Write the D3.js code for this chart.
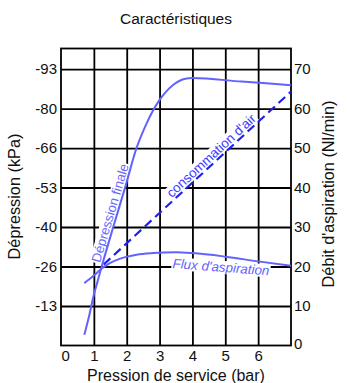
<!DOCTYPE html>
<html>
<head>
<meta charset="utf-8">
<script src="https://cdn.jsdelivr.net/npm/d3@7"></script>
<style>
  html, body { margin: 0; padding: 0; background: #fff; }
  svg { display: block; font-family: "Liberation Sans", Arial, sans-serif; }
</style>
</head>
<body>
<svg id="chart" width="350" height="383"></svg>
<script>
// ---- data ----
const xTickValues = [0, 1, 2, 3, 4, 5, 6];
const xGridValues = [1, 2, 3, 4, 5, 6];
const leftTickValues = [-13.33, -26.67, -40, -53.33, -66.67, -80, -93.33];
const leftTickLabels = ["-13", "-26", "-40", "-53", "-66", "-80", "-93"];
const rightTickValues = [0, 10, 20, 30, 40, 50, 60, 70];

// Dépression finale (bar, kPa)
const depressionFinale = [
  [0.71, -3.6], [0.85, -9.7], [1.0, -17.1], [1.12, -21.9], [1.24, -26.7],
  [1.59, -40.0], [1.95, -53.3], [2.3, -66.7], [2.61, -75.1], [3.0, -82.9],
  [3.2, -85.7], [3.42, -88.0], [3.75, -90.0], [4.0, -90.3], [5.5, -89.1], [7.0, -87.9]
];
// Flux d'aspiration (bar, Nl/min)
const fluxAspiration = [
  [0.71, 15.8], [1.0, 17.7], [1.24, 19.5], [1.5, 20.9], [1.8, 22.0], [2.3, 23.0],
  [2.8, 23.4], [3.5, 23.6], [4.0, 23.4], [5.0, 22.5], [6.0, 21.3], [7.0, 20.2]
];
// Consommation d'air (bar, Nl/min)
const consommationAir = [[1.3, 20.5], [7.0, 64.3]];

// ---- layout ----
const L = 61, R = 291, T = 48.5, B = 345.5;
const svg = d3.select("#chart");
const x = d3.scaleLinear().domain([0, 7]).range([L, R]);
const yR = d3.scaleLinear().domain([0, 75.2]).range([B, T]);
const yL = d3.scaleLinear().domain([0, -75.2 * 4 / 3]).range([B, T]);

const gridColor = "#000";
const gridW = 1.8;
const lightBlue = "#6262ff";
const darkBlue = "#1f1fee";

// grid
const gx = svg.append("g").attr("transform", `translate(0,${B})`)
  .call(d3.axisBottom(x).tickValues(xGridValues).tickSize(-(B - T)).tickFormat(""));
gx.select(".domain").remove();
gx.selectAll("line").attr("stroke", gridColor).attr("stroke-width", gridW);

const gy = svg.append("g").attr("transform", `translate(${L},0)`)
  .call(d3.axisLeft(yR).tickValues(rightTickValues.slice(1)).tickSize(-(R - L)).tickFormat(""));
gy.select(".domain").remove();
gy.selectAll("line").attr("stroke", gridColor).attr("stroke-width", gridW);

svg.append("rect").attr("x", L).attr("y", T).attr("width", R - L).attr("height", B - T)
  .attr("fill", "none").attr("stroke", gridColor).attr("stroke-width", gridW);

// axes labels
const tickFont = 15;
const ax = svg.append("g").attr("transform", `translate(0,${B})`)
  .call(d3.axisBottom(x).tickValues(xTickValues).tickSize(0).tickPadding(4.4).tickFormat(d3.format("d")));
ax.select(".domain").remove();
ax.selectAll("text").attr("font-size", tickFont).attr("font-family", null).attr("fill", "#111")
  .attr("text-anchor", d => d === 0 ? "start" : "middle");

const al = svg.append("g").attr("transform", `translate(${L},0)`)
  .call(d3.axisLeft(yL).tickValues(leftTickValues).tickSize(0).tickPadding(4)
    .tickFormat((d, i) => leftTickLabels[i]));
al.select(".domain").remove();
al.selectAll("text").attr("font-size", tickFont).attr("font-family", null).attr("fill", "#111");

const ar = svg.append("g").attr("transform", `translate(${R},0)`)
  .call(d3.axisRight(yR).tickValues(rightTickValues).tickSize(0).tickPadding(3));
ar.select(".domain").remove();
ar.selectAll("text").attr("font-size", tickFont).attr("font-family", null).attr("fill", "#111")
  .attr("dy", d => d === 0 ? "0.2em" : "0.32em");

// titles
svg.append("text").attr("x", 176).attr("y", 24).attr("text-anchor", "middle")
  .attr("font-size", 15.5).attr("fill", "#111").text("Caractéristiques");
svg.append("text").attr("x", 176).attr("y", 381).attr("text-anchor", "middle")
  .attr("font-size", 16).attr("fill", "#111").text("Pression de service (bar)");
svg.append("text").attr("transform", "translate(20,196.5) rotate(-90)").attr("text-anchor", "middle")
  .attr("font-size", 16.3).attr("fill", "#111").text("Dépression (kPa)");
svg.append("text").attr("transform", "translate(333.5,194) rotate(-90)").attr("text-anchor", "middle")
  .attr("font-size", 16.3).attr("fill", "#111").text("Débit d'aspiration (Nl/min)");

// curve labels with white background
function label(txt, cx, cy, angle, size, color, italic) {
  const g = svg.append("g").attr("transform", `translate(${cx},${cy}) rotate(${angle})`);
  const t = g.append("text").attr("text-anchor", "middle").attr("dy", "0.35em")
    .attr("font-size", size).attr("fill", color)
    .attr("font-style", italic ? "italic" : "normal").text(txt);
  const bb = t.node().getBBox();
  g.insert("rect", "text").attr("x", bb.x - 1).attr("y", bb.y + 1)
    .attr("width", bb.width + 2).attr("height", bb.height - 2).attr("fill", "#fff");
}
const consAngle = Math.atan2(yR(consommationAir[1][1]) - yR(consommationAir[0][1]),
  x(consommationAir[1][0]) - x(consommationAir[0][0])) * 180 / Math.PI;
label("Dépression finale", 110, 213, -73.6, 13.2, "#6a6aff", false);
label("consommation d'air", 211, 155.5, consAngle, 13.4, "#3b3bff", false);
label("Flux d'aspiration", 221, 267, 4.4, 13.4, "#6262ff", true);

// curves
const lineL = d3.line().x(d => x(d[0])).y(d => yL(d[1])).curve(d3.curveMonotoneX);
const lineR = d3.line().x(d => x(d[0])).y(d => yR(d[1])).curve(d3.curveMonotoneX);
svg.append("path").attr("d", lineR(fluxAspiration)).attr("fill", "none")
  .attr("stroke", lightBlue).attr("stroke-width", 2);
svg.append("path").attr("d", lineR(consommationAir)).attr("fill", "none")
  .attr("stroke", darkBlue).attr("stroke-width", 2.2).attr("stroke-dasharray", "9,5");
svg.append("path").attr("d", lineL(depressionFinale)).attr("fill", "none")
  .attr("stroke", lightBlue).attr("stroke-width", 2);
</script>
</body>
</html>
